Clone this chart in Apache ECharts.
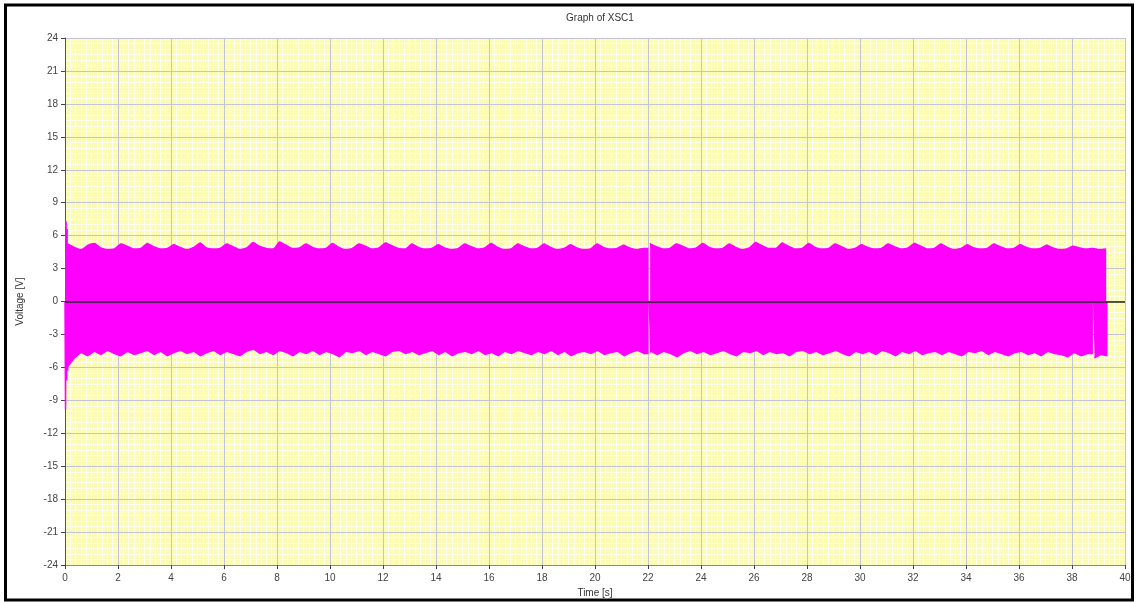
<!DOCTYPE html>
<html><head><meta charset="utf-8">
<script src="https://cdn.jsdelivr.net/npm/echarts@6/dist/echarts.min.js"></script>
<style>html,body{margin:0;padding:0;background:#fff}#c{width:1136px;height:603px}</style>
</head><body><div id="c"></div>
<script>
const chartTitle = 'Graph of XSC1';
const xName = 'Time [s]';
const yName = 'Voltage [V]';
const xRange = [0, 40, 2];
const yRange = [-24, 24, 3];

// upper envelope of the oscillation (V), evenly spaced over upperSpan (s)
const upperSpan = [0.11, 39.29];
const upperEnv = [
5.3,5.0,4.8,5.2,5.35,4.95,4.8,4.85,5.3,5.1,4.85,4.9,
5.35,5.05,4.85,4.9,5.25,5.0,4.8,5.0,5.4,4.95,4.85,4.9,
5.3,5.05,4.8,4.95,5.45,5.1,4.9,4.85,5.5,5.2,4.9,4.95,
5.3,5.0,4.85,4.9,5.35,5.0,4.8,4.9,5.3,5.1,4.85,4.95,
5.4,5.15,4.9,4.85,5.3,5.0,4.85,4.9,5.25,4.95,4.8,4.9,
5.3,5.05,4.85,4.95,5.35,5.0,4.8,4.85,5.3,5.05,4.85,4.9,
5.3,5.0,4.8,4.9,5.25,4.95,4.8,4.85,5.3,5.0,4.85,4.9,
5.2,4.95,4.8,4.9,5.35,5.05,4.85,4.9,5.3,5.1,4.85,4.95,
5.35,5.0,4.85,4.9,5.3,5.0,4.8,4.95,5.45,5.15,4.9,4.9,
5.4,5.1,4.85,4.9,5.35,5.0,4.85,4.9,5.3,5.05,4.8,4.9,
5.25,5.0,4.85,4.9,5.3,5.05,4.85,4.95,5.35,5.1,4.85,4.9,
5.3,5.0,4.8,4.9,5.25,4.95,4.85,4.9,5.3,5.05,4.85,4.9,
5.25,5.0,4.85,4.9,5.2,4.95,4.8,4.85,5.1,4.95,4.85,4.9,4.8,4.85
];
// lower envelope (V), evenly spaced over lowerSpan (s)
const lowerSpan = [0.11, 39.34];
const lowerEnv = [
-6.0,-5.2,-4.7,-5.0,-4.6,-4.9,-4.5,-4.8,-5.0,-4.6,-4.9,-4.7,
-4.5,-4.9,-4.6,-5.0,-4.7,-4.5,-4.8,-4.6,-5.0,-4.7,-4.5,-4.9,
-4.6,-4.8,-5.0,-4.6,-4.4,-4.8,-4.6,-4.9,-4.5,-4.7,-5.0,-4.6,
-4.8,-4.5,-4.9,-4.6,-4.8,-5.1,-4.6,-4.7,-4.5,-4.9,-4.6,-4.8,
-5.0,-4.6,-4.5,-4.8,-4.6,-4.9,-4.7,-4.5,-4.9,-4.6,-5.0,-4.7,
-4.6,-4.8,-4.5,-4.9,-4.7,-5.0,-4.6,-4.8,-4.5,-4.7,-4.9,-4.6,
-4.8,-4.5,-4.9,-4.6,-5.0,-4.7,-4.6,-4.8,-4.5,-4.9,-4.7,-4.6,
-5.0,-4.7,-4.5,-4.8,-4.6,-4.9,-4.6,-4.8,-5.1,-4.7,-4.5,-4.8,
-4.6,-4.9,-4.7,-4.5,-4.8,-5.0,-4.6,-4.7,-4.5,-4.9,-4.6,-4.8,
-4.7,-5.0,-4.6,-4.5,-4.8,-4.6,-4.9,-4.7,-4.5,-4.8,-5.0,-4.6,
-4.8,-4.6,-4.9,-4.5,-4.7,-5.0,-4.6,-4.8,-4.5,-4.9,-4.7,-4.6,
-4.9,-4.6,-4.8,-5.0,-4.6,-4.7,-4.5,-4.9,-4.6,-4.8,-5.0,-4.7,
-4.6,-4.9,-4.7,-5.0,-4.6,-4.8,-4.9,-5.1,-4.7,-5.0,-4.8,-5.2,-4.9,-5.0
];
// dropouts (s): through the whole waveform, and only in the lower half
const gapsBoth = [22.05];
const gapsLower = [38.82];
// start-up transient
const spikeT = [0.00, 0.02, 0.04, 0.06, 0.08, 0.10];
const spikeV = [0.0, -9.8, 7.3, -7.2, 6.6, -6.3];

function band(vals, span, gaps) {
  const n = vals.length, out = [];
  const st = (span[1] - span[0]) / (n - 1);
  for (let i = 0; i < n; i++) {
    const t = span[0] + i * st;
    out.push([t, vals[i]]);
    if (i < n - 1) {
      gaps.forEach(g => {
        if (g > t && g <= t + st) {
          out.push([g - 0.03, vals[i]], [g - 0.03, 0], [g + 0.03, 0], [g + 0.03, vals[i]]);
        }
      });
    }
  }
  return out;
}

const upperData = band(upperEnv, upperSpan, gapsBoth);
const lowerData = band(lowerEnv, lowerSpan, gapsBoth.concat(gapsLower));
const spikeData = spikeT.map((t, i) => [t, spikeV[i]]);

const font = 'Liberation Sans, Arial, sans-serif';
const magenta = '#ff00ff';
const chart = echarts.init(document.getElementById('c'), null, {renderer: 'canvas'});
const mainAxis = {
  z: 1,
  axisLabel: {fontSize: 10, color: '#444', fontFamily: font},
  axisTick: {show: true, inside: false, length: 4, lineStyle: {color: '#444'}},
  splitLine: {show: true, lineStyle: {color: '#c4c4d8', width: 1, type: 'solid'}},
  minorSplitLine: {show: false},
  nameTextStyle: {fontSize: 10, color: '#333', fontFamily: font}
};
const minorAxis = {
  z: 0, silent: true,
  axisLabel: {show: false}, axisTick: {show: false}, axisLine: {show: false},
  splitLine: {show: false},
  minorSplitLine: {show: true, lineStyle: {color: '#ffffee', width: 1, type: 'solid'}}
};
chart.setOption({
  animation: false,
  backgroundColor: '#fff',
  title: {text: chartTitle, left: 595, top: 8, textAlign: 'center',
    textStyle: {fontSize: 10, fontWeight: 'normal', color: '#333', fontFamily: font}},
  grid: {left: 65, right: 11, top: 38, bottom: 36, show: true, backgroundColor: '#fbfbb4', borderWidth: 0},
  xAxis: [
    Object.assign({}, mainAxis, {
      type: 'value', min: xRange[0], max: xRange[1], interval: xRange[2], position: 'bottom',
      name: xName, nameLocation: 'middle', nameGap: 21,
      axisLine: {show: true, onZero: false, lineStyle: {color: '#888'}}
    }),
    Object.assign({}, minorAxis, {
      type: 'value', min: xRange[0], max: xRange[1], interval: xRange[2], position: 'top',
      minorTick: {show: false, splitNumber: 10}
    })
  ],
  yAxis: [
    Object.assign({}, mainAxis, {
      type: 'value', min: yRange[0], max: yRange[1], interval: yRange[2], position: 'left',
      name: yName, nameLocation: 'middle', nameGap: 40,
      axisLabel: {fontSize: 10, color: '#444', fontFamily: font, margin: 7},
      axisLine: {show: true, onZero: false, lineStyle: {color: '#555'}}
    }),
    Object.assign({}, minorAxis, {
      type: 'value', min: yRange[0], max: yRange[1], interval: yRange[2], position: 'right',
      minorTick: {show: false, splitNumber: 6}
    })
  ],
  series: [
    {type: 'line', data: upperData, symbol: 'none', sampling: 'none', smooth: 0.2,
     lineStyle: {width: 0}, areaStyle: {color: magenta, opacity: 1, origin: 'auto'},
     markLine: {silent: true, symbol: 'none', label: {show: false},
       lineStyle: {color: '#222', type: 'solid', width: 1.5},
       data: [{yAxis: 0}]}, z: 3},
    {type: 'line', data: lowerData, symbol: 'none', sampling: 'none',
     lineStyle: {width: 0}, areaStyle: {color: magenta, opacity: 1, origin: 'auto'}, z: 2},
    {type: 'line', data: spikeData, symbol: 'none',
     lineStyle: {width: 1.5, color: magenta}, z: 2}
  ],
  graphic: [{type: 'rect', shape: {x: 5.5, y: 5, width: 1127, height: 595},
    style: {fill: 'none', stroke: '#000', lineWidth: 3}, z: 100}]
});
</script></body></html>
